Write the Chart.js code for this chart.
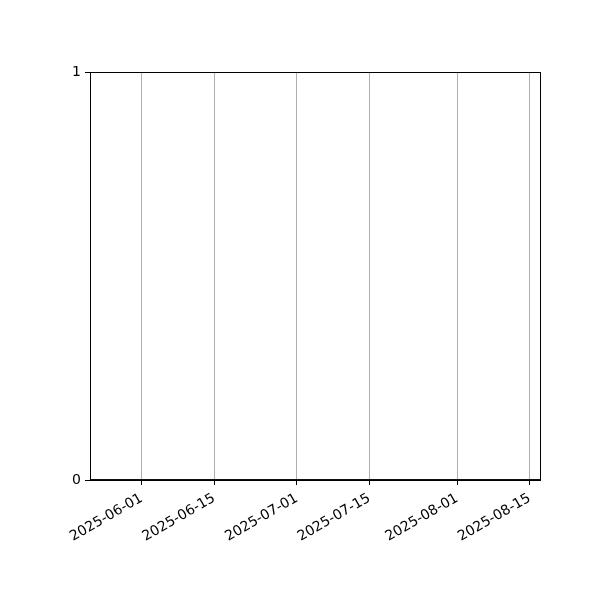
<!DOCTYPE html>
<html>
<head>
<meta charset="utf-8">
<script src="https://cdn.jsdelivr.net/npm/chart.js@4"></script>
<style>
  html, body { margin: 0; padding: 0; background: #fff; }
</style>
</head>
<body>
<canvas id="grafico" width="600" height="600"></canvas>
<script>
// data
const datas = ['2025-05-22', '2025-08-17'];
const valores = [0, 0];
const ticksDatas = ['2025-06-01', '2025-06-15', '2025-07-01', '2025-07-15', '2025-08-01', '2025-08-15'];
const ticksY = [0, 1];

const DIA = 86400000;
function paraDia(s) {
  const p = s.split('-');
  return Date.UTC(+p[0], +p[1] - 1, +p[2]) / DIA;
}
function paraTexto(d) {
  return new Date(Math.round(d) * DIA).toISOString().slice(0, 10);
}

const pontos = datas.map((d, i) => ({ x: paraDia(d), y: valores[i] }));

// draws the top and right spines
const moldura = {
  id: 'moldura',
  afterDraw(chart) {
    const a = chart.chartArea;
    const c = chart.ctx;
    c.save();
    c.strokeStyle = '#000';
    c.lineWidth = 1;
    c.strokeRect(a.left + 0.5, a.top + 0.5, a.right - a.left, a.bottom - a.top);
    c.restore();
  }
};

Chart.defaults.font.family = '"DejaVu Sans", sans-serif';
Chart.defaults.font.size = 14;
Chart.defaults.color = '#000';

const ctx = document.getElementById('grafico').getContext('2d');
const grafico = new Chart(ctx, {
  type: 'line',
  data: {
    datasets: [{
      data: pontos,
      borderColor: '#00008b',
      borderWidth: 2,
      pointRadius: 0,
      fill: false
    }]
  },
  plugins: [moldura],
  options: {
    responsive: false,
    animation: false,
    layout: { padding: { top: 72, right: 60, left: 0, bottom: 0 } },
    plugins: { legend: { display: false }, tooltip: { enabled: false } },
    scales: {
      x: {
        type: 'linear',
        min: paraDia(datas[0]),
        max: paraDia(datas[datas.length - 1]),
        afterBuildTicks: s => { s.ticks = ticksDatas.map(d => ({ value: paraDia(d) })); },
        afterFit: s => { s.height = 120; },
        ticks: {
          callback: v => paraTexto(v),
          minRotation: 30,
          maxRotation: 30,
          autoSkip: false,
          padding: 5
        },
        grid: { color: '#b0b0b0', tickColor: '#000', tickLength: 5, lineWidth: 1 },
        border: { color: '#000', width: 1 }
      },
      y: {
        min: 0,
        max: 1,
        afterBuildTicks: s => { s.ticks = ticksY.map(v => ({ value: v })); },
        afterFit: s => { s.width = 90; },
        ticks: { padding: 4 },
        grid: { drawOnChartArea: false, tickColor: '#000', tickLength: 5 },
        border: { color: '#000', width: 1 }
      }
    }
  }
});
</script>
</body>
</html>
